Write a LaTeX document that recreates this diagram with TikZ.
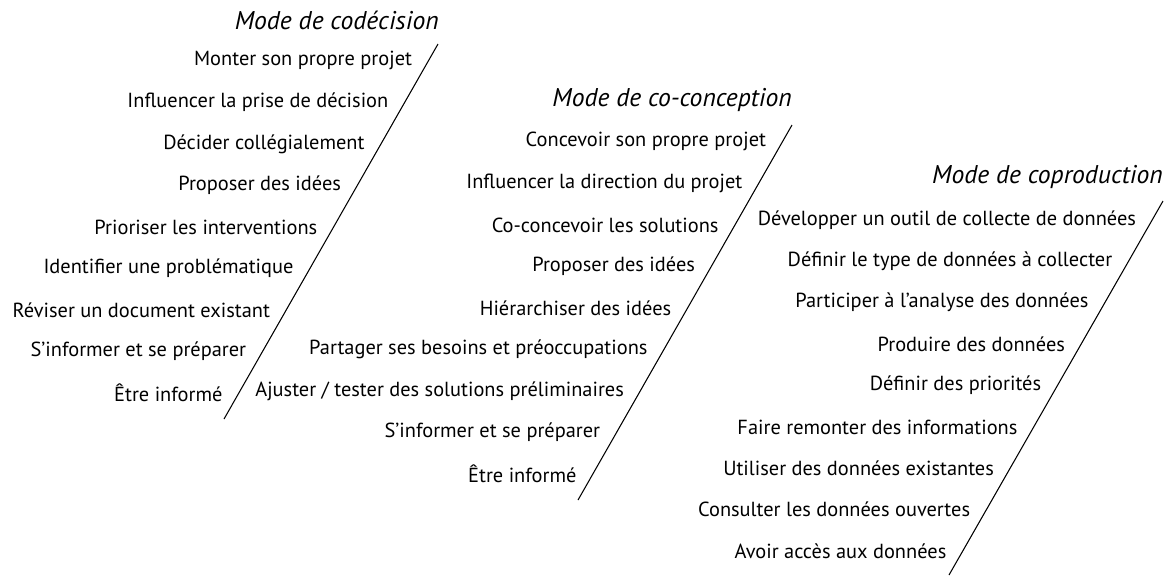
\documentclass[tikz,border=0pt]{standalone}
\usepackage{fontspec}
\setmainfont{PT Sans}
\usetikzlibrary{calc,positioning}
\tikzset{
  modetitle/.style={font=\fontsize{14.6}{16}\selectfont\itshape,anchor=east,inner sep=0pt},
  item/.style={font=\fontsize{11.6}{13}\selectfont,anchor=east,inner sep=0pt,xshift=-0.32cm},
  slant/.style={line width=0.6pt,black}
}

\begin{document}
\begin{tikzpicture}[x=0.02cm,y=-0.02cm]
  \useasboundingbox (0,0) rectangle (1166,576);

  % codecision
  \coordinate (cd-top) at (438,44);
  \coordinate (cd-bot) at (224,419);
  \draw[slant] (cd-top) -- (cd-bot);
  \node[modetitle] (cd-title) at ($(cd-top)+(1,-24)$) {Mode de codécision};
  \node[item] (cd1) at ($(cd-top)!0.045!(cd-bot)$) {Monter son propre projet};
  \node[item] (cd2) at ($(cd-top)!0.156!(cd-bot)$) {Influencer la prise de décision};
  \node[item] (cd3) at ($(cd-top)!0.267!(cd-bot)$) {Décider collégialement};
  \node[item] (cd4) at ($(cd-top)!0.377!(cd-bot)$) {Proposer des idées};
  \node[item] (cd5) at ($(cd-top)!0.488!(cd-bot)$) {Prioriser les interventions};
  \node[item] (cd6) at ($(cd-top)!0.599!(cd-bot)$) {Identifier une problématique};
  \node[item] (cd7) at ($(cd-top)!0.709!(cd-bot)$) {Réviser un document existant};
  \node[item] (cd8) at ($(cd-top)!0.820!(cd-bot)$) {S’informer et se préparer};
  \node[item] (cd9) at ($(cd-top)!0.931!(cd-bot)$) {Être informé};

  % co-conception
  \coordinate (cc-top) at (792,125);
  \coordinate (cc-bot) at (578,500);
  \draw[slant] (cc-top) -- (cc-bot);
  \node[modetitle] (cc-title) at ($(cc-top)+(0,-25)$) {Mode de co-conception};
  \node[item] (cc1) at ($(cc-top)!0.045!(cc-bot)$) {Concevoir son propre projet};
  \node[item] (cc2) at ($(cc-top)!0.156!(cc-bot)$) {Influencer la direction du projet};
  \node[item] (cc3) at ($(cc-top)!0.267!(cc-bot)$) {Co-concevoir les solutions};
  \node[item] (cc4) at ($(cc-top)!0.377!(cc-bot)$) {Proposer des idées};
  \node[item] (cc5) at ($(cc-top)!0.488!(cc-bot)$) {Hiérarchiser des idées};
  \node[item] (cc6) at ($(cc-top)!0.599!(cc-bot)$) {Partager ses besoins et préoccupations};
  \node[item] (cc7) at ($(cc-top)!0.709!(cc-bot)$) {Ajuster / tester des solutions préliminaires};
  \node[item] (cc8) at ($(cc-top)!0.820!(cc-bot)$) {S’informer et se préparer};
  \node[item] (cc9) at ($(cc-top)!0.931!(cc-bot)$) {Être informé};

  % coproduction
  \coordinate (cp-top) at (1163,201);
  \coordinate (cp-bot) at (949,575);
  \draw[slant] (cp-top) -- (cp-bot);
  \node[modetitle] (cp-title) at ($(cp-top)+(0,-24)$) {Mode de coproduction};
  \node[item] (cp1) at ($(cp-top)!0.050!(cp-bot)$) {Développer un outil de collecte de données};
  \node[item] (cp2) at ($(cp-top)!0.161!(cp-bot)$) {Définir le type de données à collecter};
  \node[item] (cp3) at ($(cp-top)!0.272!(cp-bot)$) {Participer à l’analyse des données};
  \node[item] (cp4) at ($(cp-top)!0.382!(cp-bot)$) {Produire des données};
  \node[item] (cp5) at ($(cp-top)!0.493!(cp-bot)$) {Définir des priorités};
  \node[item] (cp6) at ($(cp-top)!0.604!(cp-bot)$) {Faire remonter des informations};
  \node[item] (cp7) at ($(cp-top)!0.714!(cp-bot)$) {Utiliser des données existantes};
  \node[item] (cp8) at ($(cp-top)!0.825!(cp-bot)$) {Consulter les données ouvertes};
  \node[item] (cp9) at ($(cp-top)!0.936!(cp-bot)$) {Avoir accès aux données};
\end{tikzpicture}
\end{document}
